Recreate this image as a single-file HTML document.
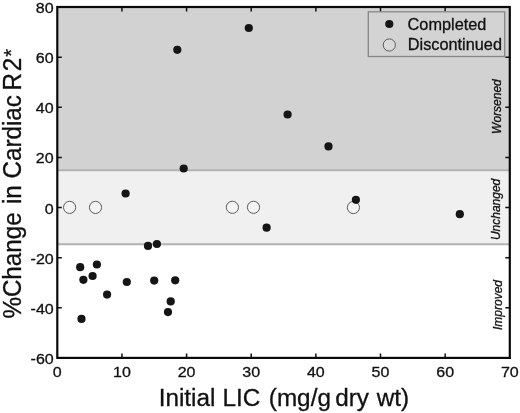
<!DOCTYPE html>
<html><head><meta charset="utf-8"><title>Chart</title>
<style>html,body{margin:0;padding:0;background:#fff}svg{display:block}text{font-family:"Liberation Sans",Arial,Helvetica,sans-serif;fill:#111;stroke:#111;stroke-width:0.3px}text.tk{stroke-width:0.3px}</style></head>
<body>
<svg width="520" height="413" viewBox="0 0 520 413">
<rect width="520" height="413" fill="#fff"/>
<rect x="57.3" y="7.0" width="452.5" height="162.92" fill="#d2d2d2"/>
<rect x="57.3" y="169.92" width="452.5" height="74.28" fill="#f0f0f0"/>
<line x1="57.3" x2="509.8" y1="170.32" y2="170.32" stroke="#b2b2b2" stroke-width="1.9"/>
<line x1="57.3" x2="509.8" y1="244.2" y2="244.2" stroke="#b2b2b2" stroke-width="1.9"/>
<circle cx="69.6" cy="207.4" r="6.1" fill="#f3f3f3" stroke="#5c5c5c" stroke-width="1"/>
<circle cx="95.5" cy="207.4" r="6.1" fill="#f3f3f3" stroke="#5c5c5c" stroke-width="1"/>
<circle cx="232.4" cy="207.3" r="6.1" fill="#f3f3f3" stroke="#5c5c5c" stroke-width="1"/>
<circle cx="253.5" cy="207.3" r="6.1" fill="#f3f3f3" stroke="#5c5c5c" stroke-width="1"/>
<circle cx="353.4" cy="207.5" r="6.1" fill="#f3f3f3" stroke="#5c5c5c" stroke-width="1"/>
<circle cx="80.2" cy="267.2" r="4.1" fill="#151515"/>
<circle cx="96.9" cy="264.5" r="4.1" fill="#151515"/>
<circle cx="83.4" cy="279.8" r="4.1" fill="#151515"/>
<circle cx="92.6" cy="276.0" r="4.1" fill="#151515"/>
<circle cx="107.1" cy="294.6" r="4.1" fill="#151515"/>
<circle cx="81.5" cy="318.9" r="4.1" fill="#151515"/>
<circle cx="126.8" cy="282.0" r="4.1" fill="#151515"/>
<circle cx="148.0" cy="245.9" r="4.1" fill="#151515"/>
<circle cx="156.9" cy="244.0" r="4.1" fill="#151515"/>
<circle cx="154.2" cy="280.6" r="4.1" fill="#151515"/>
<circle cx="175.2" cy="280.3" r="4.1" fill="#151515"/>
<circle cx="170.7" cy="301.4" r="4.1" fill="#151515"/>
<circle cx="168.0" cy="312.1" r="4.1" fill="#151515"/>
<circle cx="177.3" cy="49.8" r="4.1" fill="#151515"/>
<circle cx="183.7" cy="168.5" r="4.1" fill="#151515"/>
<circle cx="125.6" cy="193.5" r="4.1" fill="#151515"/>
<circle cx="248.8" cy="28.0" r="4.1" fill="#151515"/>
<circle cx="287.6" cy="114.5" r="4.1" fill="#151515"/>
<circle cx="328.5" cy="146.4" r="4.1" fill="#151515"/>
<circle cx="266.6" cy="227.7" r="4.1" fill="#151515"/>
<circle cx="459.8" cy="214.2" r="4.1" fill="#151515"/>
<circle cx="355.9" cy="199.8" r="4.1" fill="#151515"/>
<path d="M121.94 357.9v-4.5M121.94 7.0v4.5M186.59 357.9v-4.5M186.59 7.0v4.5M251.23 357.9v-4.5M251.23 7.0v4.5M315.87 357.9v-4.5M315.87 7.0v4.5M380.51 357.9v-4.5M380.51 7.0v4.5M445.16 357.9v-4.5M445.16 7.0v4.5M57.3 307.77h4.5M509.8 307.77h-4.5M57.3 257.64h4.5M509.8 257.64h-4.5M57.3 207.51h4.5M509.8 207.51h-4.5M57.3 157.39h4.5M509.8 157.39h-4.5M57.3 107.26h4.5M509.8 107.26h-4.5M57.3 57.13h4.5M509.8 57.13h-4.5" stroke="#111" stroke-width="1.5" fill="none"/>
<rect x="57.3" y="7.0" width="452.5" height="350.9" fill="none" stroke="#0a0a0a" stroke-width="2.2"/>
<text transform="translate(57.30 377) scale(1.055 1)" font-size="15.2" class="tk" text-anchor="middle">0</text>
<text transform="translate(121.94 377) scale(1.055 1)" font-size="15.2" class="tk" text-anchor="middle">10</text>
<text transform="translate(186.59 377) scale(1.055 1)" font-size="15.2" class="tk" text-anchor="middle">20</text>
<text transform="translate(251.23 377) scale(1.055 1)" font-size="15.2" class="tk" text-anchor="middle">30</text>
<text transform="translate(315.87 377) scale(1.055 1)" font-size="15.2" class="tk" text-anchor="middle">40</text>
<text transform="translate(380.51 377) scale(1.055 1)" font-size="15.2" class="tk" text-anchor="middle">50</text>
<text transform="translate(445.16 377) scale(1.055 1)" font-size="15.2" class="tk" text-anchor="middle">60</text>
<text transform="translate(509.80 377) scale(1.055 1)" font-size="15.2" class="tk" text-anchor="middle">70</text>
<text transform="translate(53.7 363.90) scale(1.055 1)" font-size="15.2" class="tk" text-anchor="end">-60</text>
<text transform="translate(53.7 313.77) scale(1.055 1)" font-size="15.2" class="tk" text-anchor="end">-40</text>
<text transform="translate(53.7 263.64) scale(1.055 1)" font-size="15.2" class="tk" text-anchor="end">-20</text>
<text transform="translate(53.7 213.51) scale(1.055 1)" font-size="15.2" class="tk" text-anchor="end">0</text>
<text transform="translate(53.7 163.39) scale(1.055 1)" font-size="15.2" class="tk" text-anchor="end">20</text>
<text transform="translate(53.7 113.26) scale(1.055 1)" font-size="15.2" class="tk" text-anchor="end">40</text>
<text transform="translate(53.7 63.13) scale(1.055 1)" font-size="15.2" class="tk" text-anchor="end">60</text>
<text transform="translate(53.7 13.00) scale(1.055 1)" font-size="15.2" class="tk" text-anchor="end">80</text>
<text transform="translate(0 405.7) scale(1.024 1)" font-size="23.75" xml:space="preserve"><tspan x="154.98">Initial </tspan><tspan x="217.29">LIC </tspan><tspan x="262.50">(mg/g </tspan><tspan x="327.34">dry </tspan><tspan x="367.87">wt)</tspan></text>
<text transform="translate(21.0 318.6) rotate(-90) scale(1.008 1.05)" font-size="24" xml:space="preserve"><tspan x="0.00">%Change </tspan><tspan x="113.69">in </tspan><tspan x="138.99">Cardiac </tspan><tspan x="226.39">R</tspan><tspan x="245.34">2</tspan><tspan x="259.82" dy="-2.67" font-size="20">*</tspan></text>
<text transform="translate(500.5 106.6) rotate(-90)" font-size="12" font-style="italic" text-anchor="middle">Worsened</text>
<text transform="translate(500.4 209.4) rotate(-90)" font-size="12" font-style="italic" text-anchor="middle">Unchanged</text>
<text transform="translate(502.2 305) rotate(-90)" font-size="12" font-style="italic" text-anchor="middle">Improved</text>
<rect x="368.3" y="11.8" width="136.4" height="44.7" fill="#d3d3d3" stroke="#868686" stroke-width="1.3"/>
<circle cx="389.3" cy="24" r="4.1" fill="#151515"/>
<circle cx="389.3" cy="45.0" r="6.1" fill="#dadada" stroke="#5c5c5c" stroke-width="1"/>
<text transform="translate(407.6 29.7) scale(1.012 1)" font-size="16.1">Completed</text>
<text transform="translate(407.8 50.3) scale(1.012 1)" font-size="16.1">Discontinued</text>
</svg>
</body></html>
